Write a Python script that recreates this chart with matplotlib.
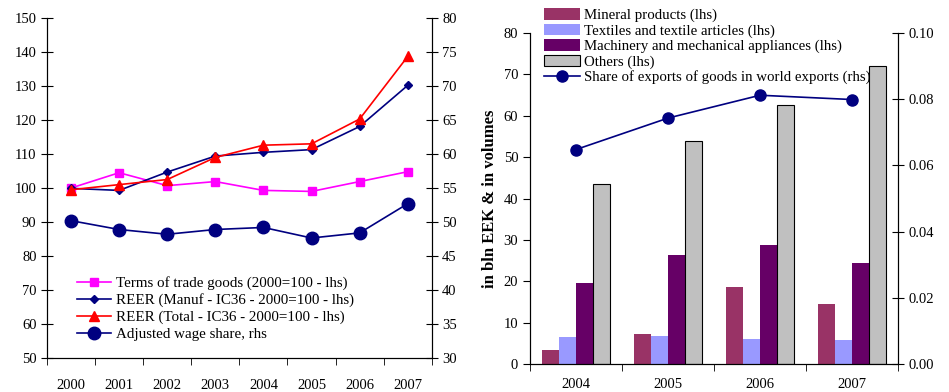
import matplotlib
matplotlib.use("Agg")
import matplotlib.pyplot as plt
import numpy as np

plt.rcParams["font.family"] = ["Liberation Serif", "DejaVu Serif"]
plt.rcParams["font.size"] = 10.5

# Left panel: price/competitiveness indicators
years_left = ["2000", "2001", "2002", "2003", "2004", "2005", "2006", "2007"]
terms_of_trade = [100.0, 104.5, 100.7, 101.9, 99.3, 99.0, 101.9, 104.8]
reer_manuf = [99.9, 99.3, 104.7, 109.4, 110.5, 111.3, 118.1, 130.2]
reer_total = [99.5, 101.0, 102.5, 109.0, 112.6, 113.0, 120.3, 138.7]
wage_share = [50.2, 48.9, 48.2, 48.9, 49.2, 47.65, 48.4, 52.7]

# Right panel: exports by product group
years_right = ["2004", "2005", "2006", "2007"]
mineral = [3.4, 7.2, 18.6, 14.5]
textiles = [6.5, 6.8, 6.0, 5.8]
machinery = [19.6, 26.3, 28.7, 24.4]
others = [43.5, 53.8, 62.7, 72.0]
world_share = [0.0648, 0.0743, 0.0812, 0.0799]

NAVY = "#000080"

fig = plt.figure(figsize=(9.49, 3.92), dpi=100)

# ---- left panel ----
ax1 = fig.add_axes([0.0495, 0.0867, 0.4055, 0.8673])
x1 = np.arange(len(years_left))
ax1.plot(x1, terms_of_trade, color="#FF00FF", marker="s", ms=6, lw=1.2,
         label="Terms of trade goods (2000=100 - lhs)")
ax1.plot(x1, reer_manuf, color=NAVY, marker="D", ms=4.5, lw=1.2,
         label="REER (Manuf - IC36 - 2000=100 - lhs)")
ax1.plot(x1, reer_total, color="#FF0000", marker="^", ms=7, lw=1.2,
         label="REER (Total - IC36 - 2000=100 - lhs)")
ax1.set_ylim(50, 150)
ax1.set_yticks(np.arange(50, 151, 10))
ax1.set_xlim(-0.5, len(years_left) - 0.5)

ax1r = ax1.twinx()
ax1r.plot(x1, wage_share, color=NAVY, marker="o", ms=9, lw=1.2,
          label="Adjusted wage share, rhs")
ax1r.set_ylim(30, 80)
ax1r.set_yticks(np.arange(30, 81, 5))

h1, l1 = ax1.get_legend_handles_labels()
h2, l2 = ax1r.get_legend_handles_labels()
ax1r.legend(h1 + h2, l1 + l2, loc="lower left", bbox_to_anchor=(0.078, 0.05),
            frameon=False, borderpad=0, borderaxespad=0, labelspacing=0.22,
            handlelength=2.3, handletextpad=0.3, fontsize=10.8)

# ---- right panel ----
ax2 = fig.add_axes([0.5585, 0.0714, 0.3878, 0.8444])
x2 = np.arange(len(years_right))
w = 0.185
ax2.bar(x2 - 1.5 * w, mineral, w, color="#993366", label="Mineral products (lhs)")
ax2.bar(x2 - 0.5 * w, textiles, w, color="#9999FF",
        label="Textiles and textile articles (lhs)")
ax2.bar(x2 + 0.5 * w, machinery, w, color="#660066",
        label="Machinery and mechanical appliances (lhs)")
ax2.bar(x2 + 1.5 * w, others, w, color="#C0C0C0", edgecolor="black", lw=0.8,
        label="Others (lhs)")
ax2.set_ylim(0, 80)
ax2.set_yticks(np.arange(0, 81, 10))
ax2.set_xlim(-0.5, len(years_right) - 0.5)
ax2.set_ylabel("in bln EEK & in volumes", fontweight="bold", fontsize=12,
               labelpad=4)

ax2r = ax2.twinx()
ax2r.plot(x2, world_share, color=NAVY, marker="o", ms=8, lw=1.2,
          label="Share of exports of goods in world exports (rhs)")
ax2r.set_ylim(0, 0.10)
ax2r.set_yticks(np.arange(0, 0.101, 0.02))
ax2r.yaxis.set_major_formatter(matplotlib.ticker.FormatStrFormatter("%.2f"))

h1, l1 = ax2.get_legend_handles_labels()
h2, l2 = ax2r.get_legend_handles_labels()
ax2r.legend(h1 + h2, l1 + l2, loc="upper left", bbox_to_anchor=(0.038, 1.075),
            frameon=False, borderpad=0, borderaxespad=0, labelspacing=0.1,
            handlelength=2.4, handleheight=0.8, handletextpad=0.3,
            fontsize=10.7)

# shared axis styling: category labels at centres, tick marks at boundaries
for ax, twin, n, labels in [(ax1, ax1r, len(years_left), years_left),
                            (ax2, ax2r, len(years_right), years_right)]:
    for a in (ax, twin):
        a.spines["top"].set_visible(False)
    ax.set_xticks(np.arange(n))
    ax.set_xticklabels(labels)
    ax.set_xticks(np.arange(n + 1) - 0.5, minor=True)
    ax.tick_params(axis="x", which="minor", length=5, direction="out")
    twin.tick_params(axis="y", direction="inout", length=8)

ax1.tick_params(axis="x", which="major", length=0, pad=15)
ax2.tick_params(axis="x", which="major", length=0, pad=10)
ax1.tick_params(axis="y", direction="inout", length=8)
ax2.tick_params(axis="y", direction="out", length=5)

fig.savefig("out.png", dpi=100)
